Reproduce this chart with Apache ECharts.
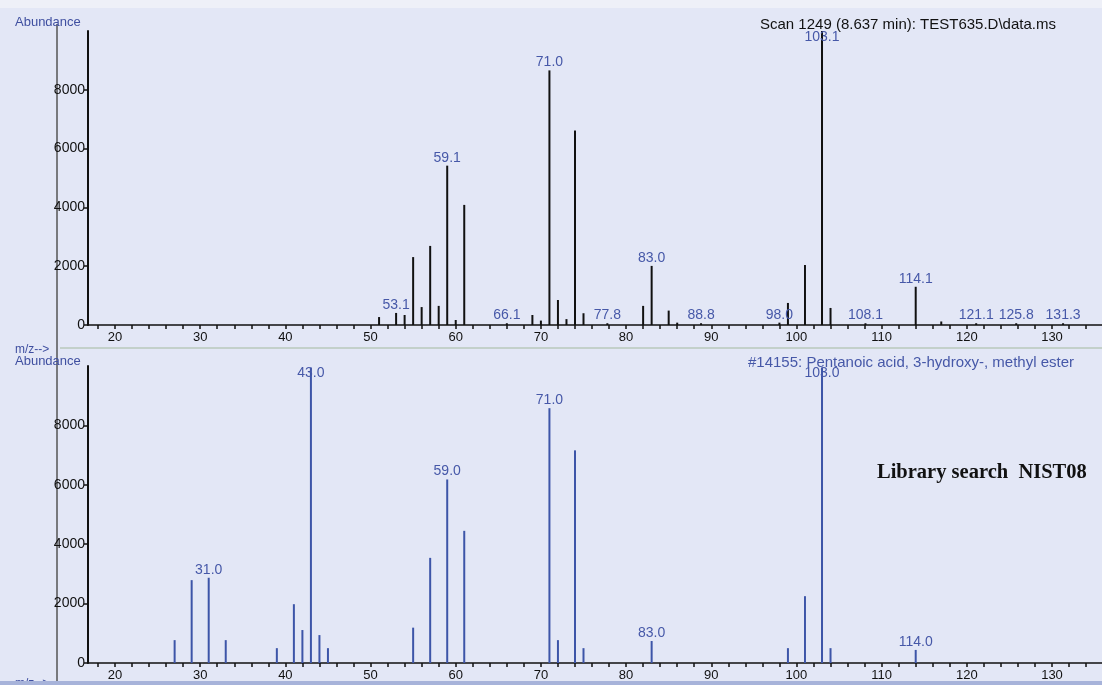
<!DOCTYPE html>
<html>
<head>
<meta charset="utf-8">
<script src="https://cdn.jsdelivr.net/npm/echarts@6/dist/echarts.min.js"></script>
<style>
html,body{margin:0;padding:0;background:#e3e7f6;}
#chart{width:1102px;height:685px;}
</style>
</head>
<body>
<div id="chart"></div>
<script>
// ---- Data ----
// Top: measured scan spectrum
const topMz     = [51, 53, 54, 55, 56, 57, 58, 59, 60, 61, 66, 69, 70, 71, 72, 73, 74, 75, 77.8, 82, 83, 85, 86, 88.8, 98, 99, 101, 103, 104, 108.1, 114, 117, 121.1, 125.8, 131.3];
const topAbund  = [270, 410, 340, 2310, 610, 2690, 650, 5420, 170, 4085, 60, 340, 150, 8660, 850, 200, 6615, 400, 60, 650, 2010, 490, 80, 60, 80, 750, 2040, 10000, 580, 60, 1300, 120, 60, 60, 60];
const topLabels = ['', '53.1', '', '', '', '', '', '59.1', '', '', '66.1', '', '', '71.0', '', '', '', '', '77.8', '', '83.0', '', '', '88.8', '98.0', '', '', '103.1', '', '108.1', '114.1', '', '121.1', '125.8', '131.3'];

// Bottom: library (NIST08) spectrum
const libMz     = [27, 29, 31, 33, 39, 41, 42, 43, 44, 45, 55, 57, 59, 61, 71, 72, 74, 75, 83, 99, 101, 103, 104, 114];
const libAbund  = [770, 2790, 2870, 770, 500, 1980, 1110, 9950, 940, 500, 1190, 3540, 6180, 4450, 8580, 770, 7160, 500, 740, 500, 2250, 9950, 500, 440];
const libLabels = ['', '', '31.0', '', '', '', '', '43.0', '', '', '', '', '59.0', '', '71.0', '', '', '', '83.0', '', '', '103.0', '', '114.0'];

const xTickLabels = [20, 30, 40, 50, 60, 70, 80, 90, 100, 110, 120, 130];
const xMinorTicks = [18,20,22,24,26,28,30,32,34,36,38,40,42,44,46,48,50,52,54,56,58,60,62,64,66,68,70,72,74,76,78,80,82,84,86,88,90,92,94,96,98,100,102,104,106,108,110,112,114,116,118,120,122,124,126,128,130,132,134];
const yTickLabels = [0, 2000, 4000, 6000, 8000];

const scanTitle = 'Scan 1249 (8.637 min): TEST635.D\\data.ms';
const libTitle  = '#14155: Pentanoic acid, 3-hydroxy-, methyl ester';
const searchNote = 'Library search  NIST08';

// ---- Chart ----
const chart = echarts.init(document.getElementById('chart'), null, {renderer: 'canvas'});
const FONT = 'Liberation Sans';
const LABEL_BLUE = '#4658a8';

function xAxisCfg(grid) {
  return {
    type: 'value', gridIndex: grid, min: 16.83, max: 135.87,
    axisLine: {show: true, onZero: false, lineStyle: {color: '#111', width: 1.5}},
    axisTick: {show: true, customValues: xMinorTicks, length: 4, lineStyle: {color: '#111', width: 1.5}},
    axisLabel: {customValues: xTickLabels, color: '#111', fontSize: 13, fontFamily: FONT, margin: 6},
    splitLine: {show: false}
  };
}
function yAxisCfg(grid) {
  return {
    type: 'value', gridIndex: grid, min: 0, max: 10000,
    axisLine: {show: true, lineStyle: {color: '#111', width: 2}},
    axisTick: {show: true, customValues: yTickLabels, length: 4, lineStyle: {color: '#111', width: 1.5}},
    axisLabel: {customValues: yTickLabels, color: '#111', fontSize: 14, fontFamily: FONT, margin: 3,
      formatter: v => String(v)},
    splitLine: {show: false}
  };
}
function barData(mz, ab, labels) {
  return mz.map((m, i) => {
    const item = {value: [m, ab[i]]};
    if (ab[i] > 9500 && labels[i]) {
      item.label = {position: 'insideTop', distance: 0, offset: [0, -1]};
    }
    return item;
  });
}

const option = {
  backgroundColor: '#e3e7f6',
  animation: false,
  grid: [
    {left: 88, top: 31, right: 0, height: 294},
    {left: 88, top: 366, right: 0, height: 297}
  ],
  xAxis: [xAxisCfg(0), xAxisCfg(1)],
  yAxis: [yAxisCfg(0), yAxisCfg(1)],
  title: [
    {text: 'Abundance', left: 10, top: 11, textStyle: {color: '#3f4fa0', fontSize: 13, fontWeight: 'normal', fontFamily: FONT}},
    {text: 'm/z-->', left: 10, top: 339, textStyle: {color: '#3f4fa0', fontSize: 12, fontWeight: 'normal', fontFamily: FONT}},
    {text: 'Abundance', left: 10, top: 350, textStyle: {color: '#3f4fa0', fontSize: 13, fontWeight: 'normal', fontFamily: FONT}},
    {text: 'm/z-->', left: 10, top: 673, textStyle: {color: '#3f4fa0', fontSize: 12, fontWeight: 'normal', fontFamily: FONT}},
    {text: scanTitle, left: 755, top: 12, textStyle: {color: '#111', fontSize: 15, fontWeight: 'normal', fontFamily: FONT}},
    {text: libTitle, left: 743, top: 350, textStyle: {color: '#4658a8', fontSize: 15, fontWeight: 'normal', fontFamily: FONT}},
    {text: searchNote, left: 872, top: 457, textStyle: {color: '#111', fontSize: 20.5, fontWeight: 'bold', fontFamily: 'Liberation Serif'}}
  ],
  graphic: [
    {type: 'rect', shape: {x: 0, y: 0, width: 1102, height: 8}, style: {fill: '#eef0f8'}, z: -1},
    {type: 'line', shape: {x1: 60, y1: 348, x2: 1102, y2: 348}, style: {stroke: '#b9c9bb', lineWidth: 1.5}},
    {type: 'line', shape: {x1: 57, y1: 24, x2: 57, y2: 685}, style: {stroke: '#555', lineWidth: 1.5}},
    {type: 'rect', shape: {x: 0, y: 681, width: 1102, height: 4}, style: {fill: '#a7b3da'}, z: 100}
  ],
  series: [
    {
      type: 'bar', xAxisIndex: 0, yAxisIndex: 0, barWidth: 2,
      itemStyle: {color: '#111'},
      label: {show: true, position: 'top', distance: 1, color: LABEL_BLUE, fontSize: 14, fontFamily: FONT,
        formatter: p => topLabels[p.dataIndex]},
      data: barData(topMz, topAbund, topLabels)
    },
    {
      type: 'bar', xAxisIndex: 1, yAxisIndex: 1, barWidth: 2,
      itemStyle: {color: '#3d55a8'},
      label: {show: true, position: 'top', distance: 1, color: LABEL_BLUE, fontSize: 14, fontFamily: FONT,
        formatter: p => libLabels[p.dataIndex]},
      data: barData(libMz, libAbund, libLabels)
    }
  ]
};
chart.setOption(option);
</script>
</body>
</html>
